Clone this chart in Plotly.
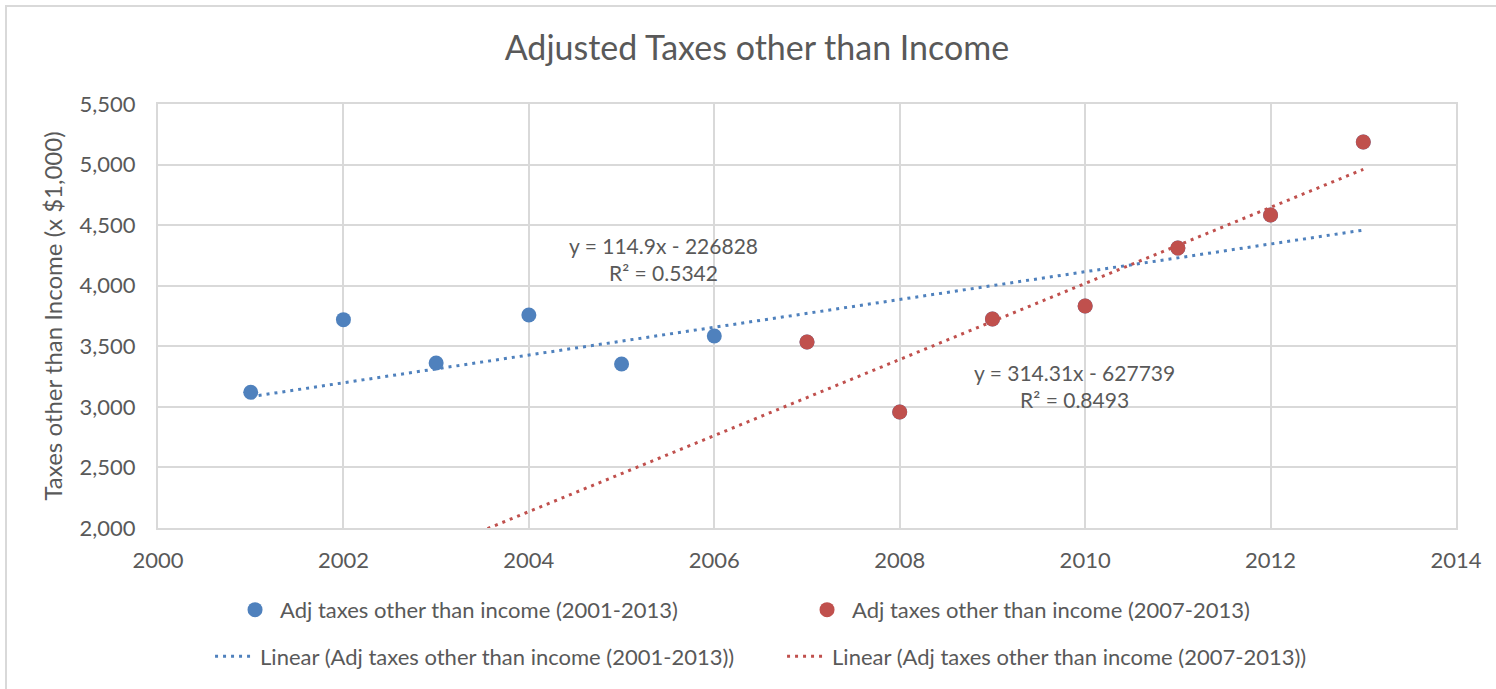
import numpy as np
import plotly.graph_objects as go

years_all = [2001, 2002, 2003, 2004, 2005, 2006, 2007, 2008, 2009, 2010, 2011, 2012, 2013]
taxes_all = [3120, 3720, 3362, 3758, 3354, 3585, 3535, 2958, 3725, 3833, 4311, 4584, 5186]
years_recent = [2007, 2008, 2009, 2010, 2011, 2012, 2013]
taxes_recent = [3535, 2958, 3725, 3833, 4311, 4584, 5186]

name_all = "Adj taxes other than income (2001-2013)"
name_recent = "Adj taxes other than income (2007-2013)"
eq_all = "y = 114.9x - 226828<br>R² = 0.5342"
eq_recent = "y = 314.31x - 627739<br>R² = 0.8493"

BLUE = "#4F81BD"
RED = "#C0504D"
TXT = "#595959"
GRID = "#D9D9D9"
FONT = "Lato, 'Open Sans', sans-serif"

# linear trendlines (least squares fit)
b_all = np.polyfit(years_all, taxes_all, 1)
b_rec = np.polyfit(years_recent, taxes_recent, 1)
tx_all = np.array([years_all[0], years_all[-1]], dtype=float)
tx_rec = np.array([years_all[0], years_recent[-1]], dtype=float)  # backward forecast

fig = go.Figure()
fig.add_trace(go.Scatter(x=years_all, y=taxes_all, mode="markers", name=name_all,
                         marker=dict(color=BLUE, size=15), legend="legend"))
fig.add_trace(go.Scatter(x=years_recent, y=taxes_recent, mode="markers", name=name_recent,
                         marker=dict(color=RED, size=15), legend="legend"))
fig.add_trace(go.Scatter(x=tx_all, y=np.polyval(b_all, tx_all), mode="lines",
                         name="Linear (" + name_all + ")",
                         line=dict(color=BLUE, width=3, dash="3px,5px"), legend="legend2"))
fig.add_trace(go.Scatter(x=tx_rec, y=np.polyval(b_rec, tx_rec), mode="lines",
                         name="Linear (" + name_recent + ")",
                         line=dict(color=RED, width=3, dash="3px,5px"), legend="legend2"))

fig.add_annotation(x=2005.45, y=4220, text=eq_all, showarrow=False,
                   font=dict(size=21, color=TXT, family=FONT), align="center")
fig.add_annotation(x=2009.89, y=3172, text=eq_recent, showarrow=False,
                   font=dict(size=21, color=TXT, family=FONT), align="center")

# chart border
fig.add_shape(type="rect", xref="paper", yref="paper",
              x0=-0.1171, x1=1.2, y0=-0.6, y1=1.2311,
              line=dict(color=GRID, width=2), layer="below")

legend_common = dict(orientation="h", xref="paper", yref="paper", xanchor="left",
                     yanchor="middle", entrywidth=517, entrywidthmode="pixels",
                     font=dict(size=22, color=TXT, family=FONT),
                     bgcolor="rgba(0,0,0,0)", itemwidth=40)

fig.update_layout(
    width=1496, height=689,
    margin=dict(l=158, r=40, t=104, b=161, autoexpand=False),
    paper_bgcolor="white", plot_bgcolor="white",
    title=dict(text="Adjusted Taxes other than Income", x=0.506, xanchor="center",
               y=1 - 48 / 689, yanchor="middle",
               font=dict(size=34, color=TXT, family=FONT)),
    font=dict(family=FONT, color=TXT),
    xaxis=dict(range=[2000, 2014], tickmode="linear", tick0=2000, dtick=2,
               showgrid=True, gridcolor=GRID, gridwidth=2, zeroline=False,
               showline=True, linecolor=GRID, linewidth=2, mirror=True,
               ticks="", ticklabelstandoff=12, automargin=False,
               tickfont=dict(size=22, color=TXT, family=FONT)),
    yaxis=dict(range=[2000, 5500], tickmode="linear", tick0=2000, dtick=500,
               tickformat=",", showgrid=True, gridcolor=GRID, gridwidth=2,
               zeroline=False, showline=True, linecolor=GRID, linewidth=2, mirror=True,
               ticks="", ticklabelstandoff=16, automargin=False,
               tickfont=dict(size=22, color=TXT, family=FONT),
               title=dict(text="Taxes other than Income (x $1,000)", standoff=10,
                          font=dict(size=24, color=TXT, family=FONT))),
    legend=dict(x=0.0555, y=-0.193, **legend_common),
    legend2=dict(x=0.0401, y=-0.303, **legend_common),
    showlegend=True,
)

fig.write_html("out.html")
